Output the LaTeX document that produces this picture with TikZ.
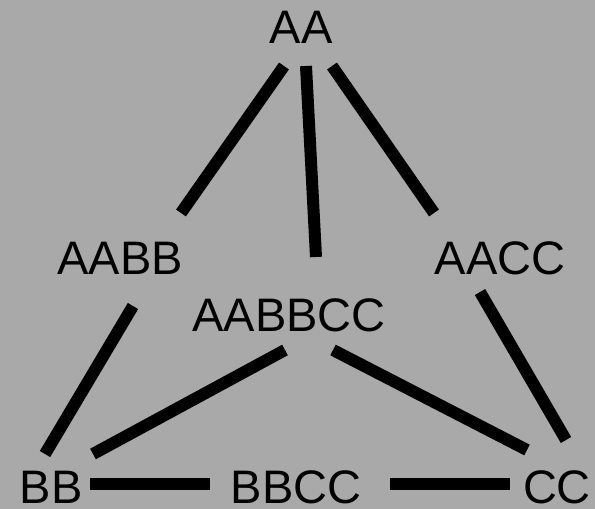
\documentclass[tikz,border=0pt]{standalone}
\usepackage{fontspec}
\setmainfont{Liberation Sans}
\definecolor{bg}{RGB}{169,169,169}
\begin{document}
\begin{tikzpicture}[x=1pt,y=1pt,
  lbl/.style={inner sep=0pt,font=\fontsize{47}{56}\selectfont,text=black},
  edge/.style={line width=12pt,black,line cap=butt}]
\fill[bg] (0,0) rectangle (595,509);
\useasboundingbox (0,0) rectangle (595,509);
\node[lbl] (AA) at (301,482) {AA};
\node[lbl] (AABB) at (120,251) {AABB};
\node[lbl] (AACC) at (500,251) {AACC};
\node[lbl] (AABBCC) at (289,194) {AABBCC};
\node[lbl] (BB) at (51,22) {BB};
\node[lbl] (BBCC) at (296,22) {BBCC};
\node[lbl] (CC) at (557,22) {CC};
\draw[edge] ([shift={(-17,-39)}]AA.center) -- ([shift={(61,45)}]AABB.center);
\draw[edge] ([shift={(5,-39)}]AA.center) -- ([shift={(27,58)}]AABBCC.center);
\draw[edge] ([shift={(31,-39)}]AA.center) -- ([shift={(-66,45)}]AACC.center);
\draw[edge] ([shift={(13,-48)}]AABB.center) -- ([shift={(-6,33)}]BB.center);
\draw[edge] ([shift={(-4,-35)}]AABBCC.center) -- ([shift={(42,33)}]BB.center);
\draw[edge] ([shift={(44,-35)}]AABBCC.center) -- ([shift={(-30,37)}]CC.center);
\draw[edge] ([shift={(-20,-34)}]AACC.center) -- ([shift={(9,47)}]CC.center);
\draw[edge] ([shift={(39,3)}]BB.center) -- ([shift={(-86,3)}]BBCC.center);
\draw[edge] ([shift={(94,3)}]BBCC.center) -- ([shift={(-47,3)}]CC.center);
\end{tikzpicture}
\end{document}
